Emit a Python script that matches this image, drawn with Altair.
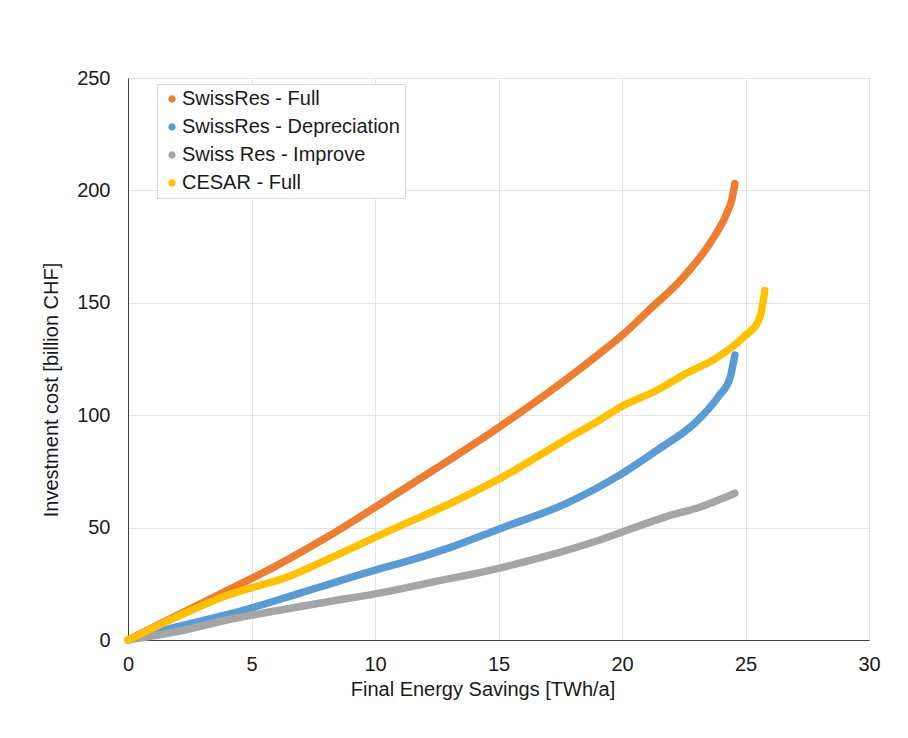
import altair as alt
import pandas as pd

# Series labels and their colours (legend order = drawing order)
series_names = ["SwissRes - Full", "SwissRes - Depreciation", "Swiss Res - Improve", "CESAR - Full"]
series_colors = ["#ED7D31", "#5B9BD5", "#A5A5A5", "#FFC000"]

# Final energy savings [TWh/a] vs. cumulative investment cost [billion CHF]
full_x = [0, 2.3, 4.05, 6.0, 8.1, 10.5, 12.5, 15.0, 17.5, 19.5, 20.0, 21.1, 22.5, 23.56, 24.24, 24.44, 24.57]
full_y = [0, 12.6, 22.2, 33.0, 46.0, 62.5, 76.5, 94.5, 114.0, 131.0, 135.5, 146.8, 161.6, 176.5, 189.8, 195.7, 203.0]

depr_x = [0, 2.0, 4.7, 7.0, 7.8, 10.5, 11.0, 13.0, 15.0, 17.75, 20.0, 21.5, 22.95, 23.9, 24.37, 24.57]
depr_y = [0, 5.9, 13.3, 21.0, 23.7, 32.6, 34.1, 41.0, 49.3, 60.8, 74.0, 85.0, 96.5, 108.3, 116.5, 126.8]

impr_x = [0, 2.0, 4.0, 6.0, 8.1, 10.5, 12.1, 15.0, 17.0, 19.1, 21.8, 23.2, 24.57]
impr_y = [0, 3.7, 8.9, 13.0, 17.0, 21.5, 25.2, 31.9, 37.5, 44.5, 54.9, 59.3, 65.3]

cesar_x = [0, 2.0, 4.05, 6.5, 8.5, 10.5, 13.0, 15.0, 17.7, 19.1, 20.0, 21.4, 22.6, 23.8, 25.0, 25.5, 25.62, 25.78]
cesar_y = [0, 10.4, 20.0, 28.2, 38.0, 48.2, 60.5, 71.5, 89.0, 97.9, 104.0, 111.0, 118.6, 125.3, 135.5, 141.5, 145.0, 155.5]

x_ticks = [0, 5, 10, 15, 20, 25, 30]
y_ticks = [0, 50, 100, 150, 200, 250]

series_data = [
    (series_names[0], full_x, full_y),
    (series_names[1], depr_x, depr_y),
    (series_names[2], impr_x, impr_y),
    (series_names[3], cesar_x, cesar_y),
]

FONT = "Liberation Sans"

color_enc = alt.Color(
    "series:N",
    scale=alt.Scale(domain=series_names, range=series_colors),
    legend=alt.Legend(
        title=None,
        orient="none",
        legendX=29,
        legendY=6,
        symbolType="circle",
        symbolSize=14,
        symbolStrokeWidth=3.6,
        symbolOffset=0,
        labelOffset=0,
        labelFont=FONT,
        labelFontSize=20,
        labelColor="#1a1a1a",
        labelLimit=400,
        padding=5,
        rowPadding=8,
        strokeColor="#d9d9d9",
        fillColor="#ffffff",
    ),
)

x_enc = alt.X(
    "savings:Q",
    scale=alt.Scale(domain=[0, 30], nice=False, zero=True),
    axis=alt.Axis(
        values=x_ticks,
        title="Final Energy Savings [TWh/a]",
        labelPadding=14,
        labelFlush=False,
        titleX=354.5,
        titleY=49,
        titleBaseline="middle",
    ),
)
y_enc = alt.Y(
    "cost:Q",
    scale=alt.Scale(domain=[0, 250], nice=False),
    axis=alt.Axis(
        values=y_ticks,
        title="Investment cost [billion CHF]",
        labelPadding=18,
        labelFlush=False,
        titleX=-77,
        titleY=311.5,
        titleBaseline="middle",
        titleAlign="center",
    ),
)

layers = []
for name, xs, ys in series_data:
    df = pd.DataFrame({"savings": xs, "cost": ys, "series": name})
    layers.append(
        alt.Chart(df)
        .mark_line(strokeWidth=7.5, strokeCap="round", strokeJoin="round", interpolate="monotone")
        .encode(x=x_enc, y=y_enc, color=color_enc)
    )

chart = (
    alt.layer(*layers)
    .properties(
        width=741,
        height=562,
        autosize=alt.AutoSizeParams(type="none"),
        padding={"left": 128, "top": 78, "right": 39, "bottom": 98},
        background="#ffffff",
    )
    .configure_view(stroke="#595959", strokeWidth=1)
    .configure_axis(
        labelFont=FONT,
        labelFontSize=20,
        labelColor="#1a1a1a",
        titleFont=FONT,
        titleFontSize=20,
        titleFontWeight="normal",
        titleColor="#1a1a1a",
        ticks=False,
        domainColor="#404040",
        domainWidth=1,
        gridColor="#e4e4e4",
        gridWidth=1,
    )
)

chart.save("out.html", embed_options={"renderer": "svg", "actions": False})
